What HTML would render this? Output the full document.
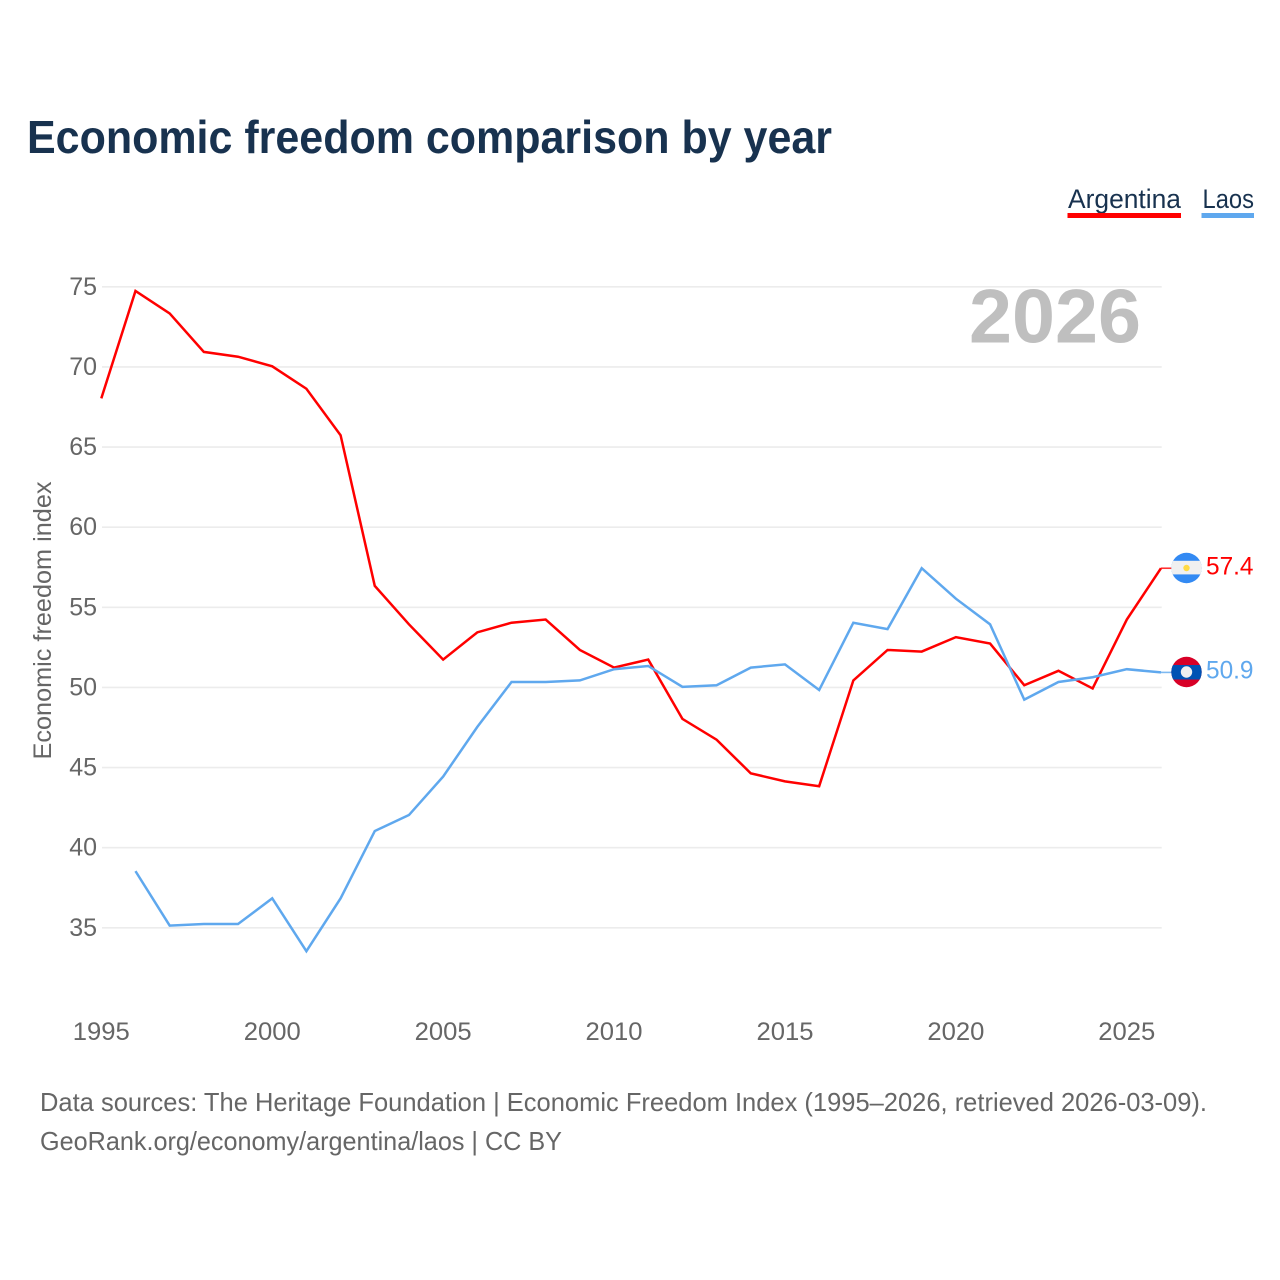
<!DOCTYPE html>
<html lang="en">
<head>
<meta charset="utf-8">
<title>Economic freedom comparison by year</title>
<style>
html,body{margin:0;padding:0;background:#fff;}
svg{display:block;font-family:"Liberation Sans",sans-serif;}
</style>
</head>
<body>
<svg id="chart" xmlns="http://www.w3.org/2000/svg" width="1280" height="1280" viewBox="0 0 1280 1280">
  <rect x="0" y="0" width="1280" height="1280" fill="#ffffff"/>
  <text x="27" y="153" font-size="46" font-weight="700" fill="#18324f" textLength="805" lengthAdjust="spacingAndGlyphs">Economic freedom comparison by year</text>

  <g>
    <text x="1068" y="208" font-size="27" fill="#18324f" textLength="113" lengthAdjust="spacingAndGlyphs">Argentina</text>
    <rect x="1067.5" y="213" width="113.5" height="5" fill="#ff0000"/>
  </g>
  <g>
    <text x="1202.5" y="208" font-size="27" fill="#18324f" textLength="51.5" lengthAdjust="spacingAndGlyphs">Laos</text>
    <rect x="1201.5" y="213" width="52.5" height="5" fill="#5fa8ee"/>
  </g>

  <g id="grid"></g>
  <text x="969" y="342.5" font-size="76" font-weight="700" fill="#bfbfbf" textLength="172" lengthAdjust="spacingAndGlyphs">2026</text>
  <g id="yticks"></g>
  <g id="xticks"></g>
  <text transform="translate(51,620.5) rotate(-90)" text-anchor="middle" font-size="25" fill="#666666" textLength="278" lengthAdjust="spacingAndGlyphs">Economic freedom index</text>

  <g id="series"></g>

  <g id="flag-argentina">
    <clipPath id="clip-ar"><circle cx="1186.5" cy="568" r="15.2"/></clipPath>
    <g clip-path="url(#clip-ar)">
      <rect x="1171" y="552" width="31" height="32" fill="#338af3"/>
      <rect x="1171" y="560.8" width="31" height="13.6" fill="#f0f0f0"/>
      <circle cx="1186.5" cy="568" r="3.2" fill="#ffda44"/>
    </g>
  </g>
  <g id="flag-laos">
    <clipPath id="clip-la"><circle cx="1186.5" cy="672" r="15.2"/></clipPath>
    <g clip-path="url(#clip-la)">
      <rect x="1171" y="656" width="31" height="32" fill="#d80027"/>
      <rect x="1171" y="665" width="31" height="14.5" fill="#0052b4"/>
      <circle cx="1186.5" cy="672" r="5.7" fill="#f0f0f0"/>
    </g>
  </g>

  <text x="40" y="1111" font-size="26" fill="#666666" textLength="1167" lengthAdjust="spacingAndGlyphs">Data sources: The Heritage Foundation | Economic Freedom Index (1995–2026, retrieved 2026-03-09).</text>
  <text x="40" y="1150" font-size="26" fill="#666666" textLength="522" lengthAdjust="spacingAndGlyphs">GeoRank.org/economy/argentina/laos | CC BY</text>
</svg>
<script>
const years = [1995,1996,1997,1998,1999,2000,2001,2002,2003,2004,2005,2006,2007,2008,2009,2010,2011,2012,2013,2014,2015,2016,2017,2018,2019,2020,2021,2022,2023,2024,2025,2026];
const argentinaValues = [68.0,74.7,73.3,70.9,70.6,70.0,68.6,65.7,56.3,53.9,51.7,53.4,54.0,54.2,52.3,51.2,51.7,48.0,46.7,44.6,44.1,43.8,50.4,52.3,52.2,53.1,52.7,50.1,51.0,49.9,54.2,57.4];
const laosValues = [null,38.5,35.1,35.2,35.2,36.8,33.5,36.8,41.0,42.0,44.4,47.5,50.3,50.3,50.4,51.1,51.3,50.0,50.1,51.2,51.4,49.8,54.0,53.6,57.4,55.5,53.9,49.2,50.3,50.6,51.1,50.9];
const yTickValues = [35,40,45,50,55,60,65,70,75];
const xTickValues = [1995,2000,2005,2010,2015,2020,2025];
const argentinaColor = '#ff0000';
const laosColor = '#5fa8ee';

const NS = 'http://www.w3.org/2000/svg';
function xScale(year){ return 101.3 + (year - 1995) * (1161 - 101.3) / 31; }
function yScale(value){ return 286.2 + (75 - value) * (927.2 - 286.2) / 40; }
function make(tag, attrs, text){
  const el = document.createElementNS(NS, tag);
  for (const k in attrs) el.setAttribute(k, attrs[k]);
  if (text !== undefined) el.textContent = text;
  return el;
}
const grid = document.getElementById('grid');
const yticks = document.getElementById('yticks');
const xticks = document.getElementById('xticks');
const series = document.getElementById('series');

yTickValues.forEach(function(v){
  const line = make('line', {x1:102, x2:1161.7, y1:yScale(v) + 0.6, y2:yScale(v) + 0.6, stroke:'#ececec', 'stroke-width':1.6});
  
  
  grid.appendChild(line);
  const label = make('text', {x:97, y:yScale(v) + 8.6, 'text-anchor':'end', 'font-size':25, fill:'#666666'}, String(v));
  
  
  yticks.appendChild(label);
});

xTickValues.forEach(function(y){
  const label = make('text', {x:xScale(y), y:1040, 'text-anchor':'middle', 'font-size':25, fill:'#666666', textLength:57, lengthAdjust:'spacingAndGlyphs'}, String(y));
  
  
  xticks.appendChild(label);
});

function drawSeries(values, color, key, labelY){
  let d = '';
  let lastX = 0, lastY = 0, lastV = 0;
  values.forEach(function(v, i){
    if (v === null) return;
    lastX = xScale(years[i]);
    lastY = yScale(v);
    lastV = v;
    d += (d ? 'L' : 'M') + lastX.toFixed(2) + ' ' + lastY.toFixed(2);
  });
  const path = make('path', {d:d, fill:'none', stroke:color, 'stroke-width':2.5, 'stroke-linejoin':'miter'});
  
  
  series.appendChild(path);
  const connector = make('line', {x1:lastX, y1:lastY, x2:1172, y2:lastY, stroke:color, 'stroke-width':1.6, opacity:0.8});
  
  
  series.appendChild(connector);
  const label = make('text', {x:1206, y:labelY, 'font-size':25, fill:color, textLength:47.5, lengthAdjust:'spacingAndGlyphs'}, lastV.toFixed(1));
  
  
  series.appendChild(label);
}
drawSeries(argentinaValues, argentinaColor, 'argentina', 574.5);
drawSeries(laosValues, laosColor, 'laos', 678.5);
</script>
</body>
</html>
